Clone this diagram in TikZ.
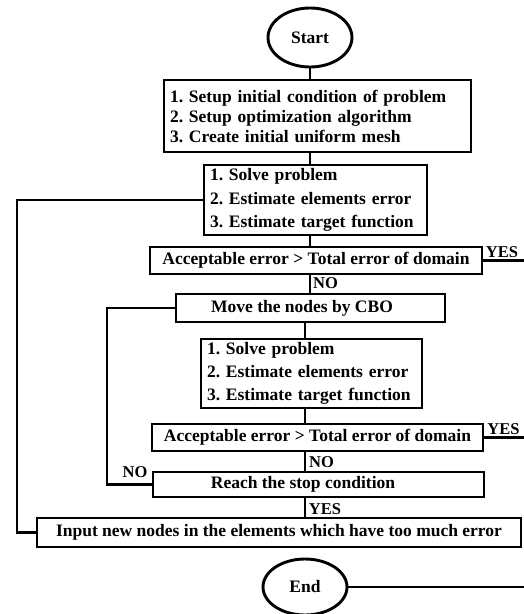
\documentclass[tikz,border=0pt]{standalone}
\usepackage{fontspec}
\setmainfont{Liberation Serif}
\usetikzlibrary{shapes.geometric}
\begin{document}
\frenchspacing
\begin{tikzpicture}[x=1pt,y=-1pt,line width=2.9pt,
  fbox/.style={draw,line width=2.9pt,inner xsep=6pt,inner ysep=0pt,
    font=\bfseries\fontsize{17.5}{20}\selectfont},
  listbox/.style={fbox,align=left},
  oval/.style={draw,ellipse,line width=2.9pt,inner sep=0pt,
    font=\bfseries\fontsize{17.5}{20}\selectfont},
  lbl/.style={inner sep=0pt,font=\bfseries\fontsize{16.5}{18}\selectfont}]
\useasboundingbox (0,0) rectangle (524,614);
\coordinate (colU) at (310,0);
\coordinate (colL) at (305,0);
\coordinate (loopA) at (17,0);
\coordinate (loopB) at (107,0);
\coordinate (redge) at (524,0);

\node[oval,minimum width=84pt,minimum height=59pt] (start) at (310,37.5) {Start};
\node[listbox,text width=295pt,minimum height=72pt] (box1) at (317.5,116)
  {1. Setup initial condition of problem\\2. Setup optimization algorithm\\3. Create initial uniform mesh};
\node[listbox,text width=211pt,minimum height=70pt,font=\bfseries\fontsize{17.5}{23.5}\selectfont] (box2) at (315.5,200)
  {1. Solve problem\\2. Estimate elements error\\3. Estimate target function};
\node[fbox,minimum width=332pt,minimum height=27pt] (dec1) at (316,260.5)
  {Acceptable error > Total error of domain};
\node[fbox,minimum width=269pt,minimum height=28pt] (move) at (310.5,308)
  {Move the nodes by CBO\hspace*{17pt}};
\node[listbox,text width=209pt,minimum height=69pt,font=\bfseries\fontsize{17.5}{23}\selectfont] (box3) at (311.5,373.5)
  {1. Solve problem\\2. Estimate elements error\\3. Estimate target function};
\node[fbox,minimum width=331pt,minimum height=27pt] (dec2) at (317.5,437.5)
  {Acceptable error > Total error of domain};
\node[fbox,minimum width=331pt,minimum height=25pt] (reach) at (318.5,484.5)
  {Reach the stop condition\hspace*{31pt}};
\node[fbox,minimum width=484pt,minimum height=29pt] (input) at (279,532.5)
  {Input new nodes in the elements which have too much error};
\node[oval,minimum width=84pt,minimum height=56pt] (end) at (305,587) {End};

\node[lbl] (yes1) at (502,252) {YES};
\node[lbl] (no1) at (325.5,283) {NO};
\node[lbl] (yes2) at (503.5,429.5) {YES};
\node[lbl] (no2) at (321.5,462.5) {NO};
\node[lbl] (no3) at (135,472.5) {NO};
\node[lbl] (yes3) at (325,509) {YES};

\draw (start.south) -- (start.south |- box1.north);
\draw (box1.south -| colU) -- (box2.north -| colU);
\draw (box2.south -| colU) -- (dec1.north -| colU);
\draw (dec1.south -| colU) -- (move.north -| colU);
\draw (move.south -| colL) -- (box3.north -| colL);
\draw (box3.south -| colL) -- (dec2.north -| colL);
\draw (dec2.south -| colL) -- (reach.north -| colL);
\draw (reach.south -| colL) -- (input.north -| colL);
\draw (box2.west) -- (box2.west -| loopA) |- (input.west);
\draw (move.west) -- (move.west -| loopB) |- (reach.west);
\draw (dec1.east) -- (dec1.east -| redge);
\draw (dec2.east) -- (dec2.east -| redge);
\draw (end.east) -- (end.east -| redge);
\end{tikzpicture}
\end{document}
